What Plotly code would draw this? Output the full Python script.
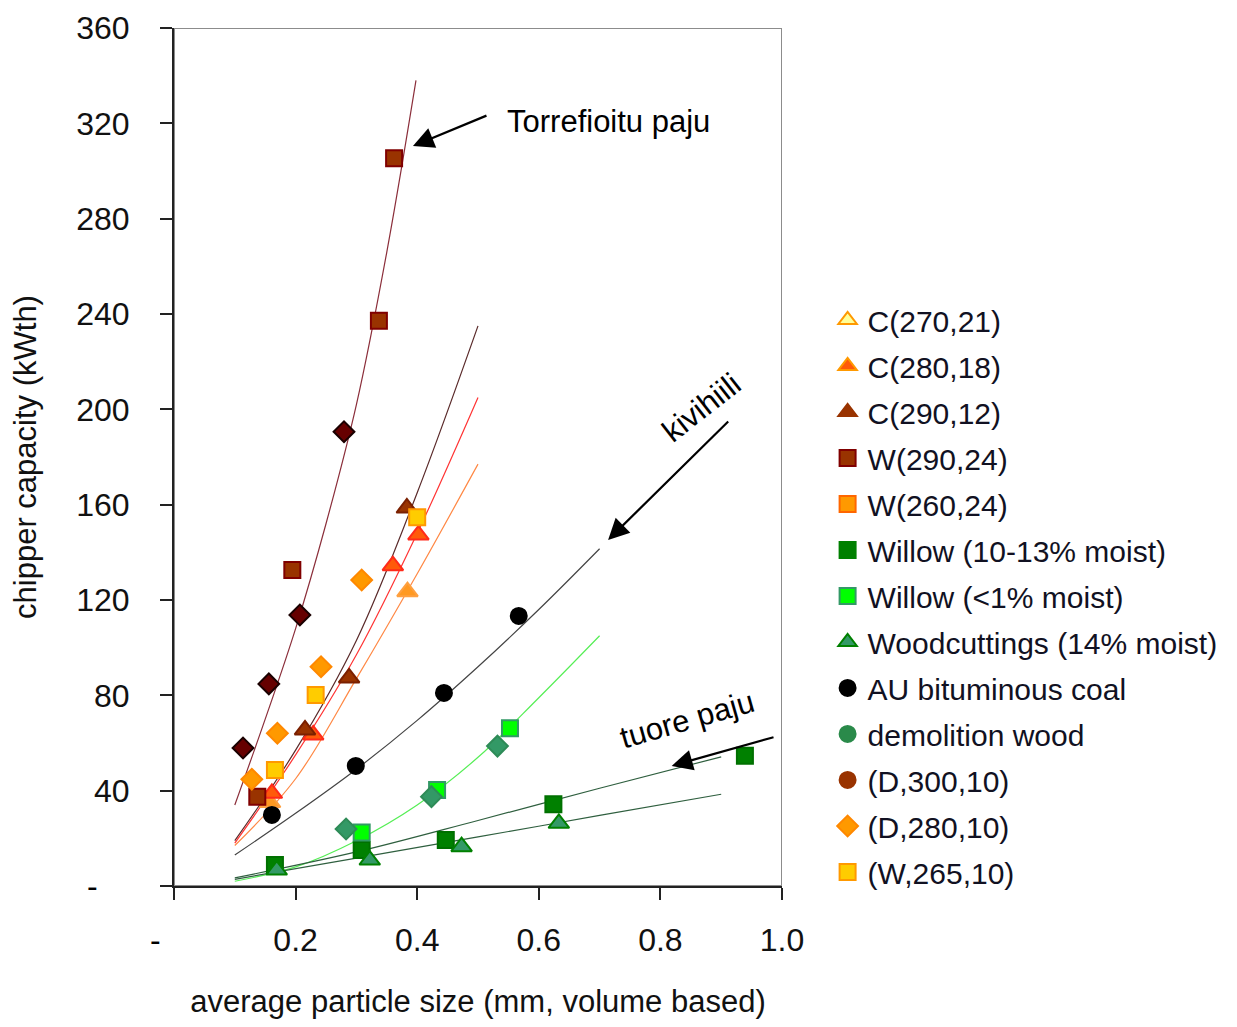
import plotly.graph_objects as go

# ---------------- data ----------------
c270_x = [0.158, 0.384]
c270_y = [35.0, 123.5]
c280_x = [0.161, 0.229, 0.360, 0.402]
c280_y = [38.9, 63.4, 134.4, 147.3]
c290_x = [0.2155, 0.288, 0.383]
c290_y = [65.5, 87.3, 158.6]
w290_x = [0.137, 0.1946, 0.337, 0.362]
w290_y = [37.5, 132.6, 237.2, 305.4]
w260_x = []
w260_y = []
willow_wet_x = [0.166, 0.3087, 0.447, 0.624, 0.939]
willow_wet_y = [8.8, 15.1, 19.3, 34.3, 54.6]
willow_dry_x = [0.3087, 0.4327, 0.5526]
willow_dry_y = [22.4, 40.3, 66.2]
woodcut_x = [0.169, 0.322, 0.473, 0.633]
woodcut_y = [6.7, 10.9, 16.5, 26.3]
coal_x = [0.161, 0.299, 0.444, 0.567]
coal_y = [29.8, 50.4, 81.0, 113.3]
demol_x = [0.283, 0.4235, 0.532]
demol_y = [23.9, 37.5, 58.7]
d300_x = [0.1135, 0.156, 0.207, 0.2796]
d300_y = [57.9, 84.8, 113.7, 190.6]
d280_x = [0.128, 0.170, 0.2418, 0.3087]
d280_y = [44.8, 64.1, 92.0, 128.4]
w265_x = [0.166, 0.233, 0.400]
w265_y = [48.7, 80.1, 154.7]

# trend lines
tr_torr_x = [0.10, 0.15, 0.20, 0.25, 0.30, 0.35, 0.398]
tr_torr_y = [34, 70, 108, 152, 202, 266, 338]
tr_c290_x = [0.10, 0.20, 0.30, 0.40, 0.50]
tr_c290_y = [19, 57, 103, 165, 235]
tr_c280_x = [0.10, 0.20, 0.30, 0.40, 0.50]
tr_c280_y = [18, 55, 97, 148, 205]
tr_c270_x = [0.10, 0.20, 0.30, 0.40, 0.50]
tr_c270_y = [17, 45, 87, 131, 177]
tr_coal_x = [0.1, 0.2, 0.3, 0.4, 0.5, 0.6, 0.7]
tr_coal_y = [13, 30.5, 49, 69.5, 92, 116, 141.5]
tr_dry_x = [0.1, 0.2, 0.3, 0.4, 0.5, 0.6, 0.7]
tr_dry_y = [2, 8, 19, 34, 54, 79, 105]
tr_wet_x = [0.1, 0.3, 0.5, 0.7, 0.9]
tr_wet_y = [3.4, 14.3, 27.5, 41, 54.2]
tr_cut_x = [0.1, 0.3, 0.5, 0.7, 0.9]
tr_cut_y = [2.8, 11.7, 20.6, 29.6, 38.5]

x_ticks = [0, 0.2, 0.4, 0.6, 0.8, 1.0]
x_ticktext = ["", "0.2", "0.4", "0.6", "0.8", "1.0"]
y_ticks = [0, 40, 80, 120, 160, 200, 240, 280, 320, 360]
y_ticktext = ["", "40", "80", "120", "160", "200", "240", "280", "320", "360"]

SANS = "Liberation Sans, Arial"

fig = go.Figure()

# trend lines
lines = [
    (tr_torr_x, tr_torr_y, "#8B2E3A"),
    (tr_c290_x, tr_c290_y, "#5A2A2A"),
    (tr_c280_x, tr_c280_y, "#FF3333"),
    (tr_c270_x, tr_c270_y, "#FF8844"),
    (tr_coal_x, tr_coal_y, "#444444"),
    (tr_dry_x, tr_dry_y, "#55EE55"),
    (tr_wet_x, tr_wet_y, "#2F5F3F"),
    (tr_cut_x, tr_cut_y, "#2F5F3F"),
]
for lx, ly, col in lines:
    fig.add_trace(go.Scatter(x=lx, y=ly, mode="lines", line=dict(color=col, width=1.2, shape="spline"),
                             showlegend=False, hoverinfo="skip"))

# markers in plot
pts = [
    (c270_x, c270_y, "triangle-up", 18, "#FF9922", "#FFA040"),
    (c280_x, c280_y, "triangle-up", 18, "#FF5A0A", "#FF2A1A"),
    (c290_x, c290_y, "triangle-up", 18, "#993300", "#7A2000"),
    (w290_x, w290_y, "square", 16, "#993300", "#800000"),
    (w260_x, w260_y, "square", 16, "#FF9900", "#FF6600"),
    (willow_wet_x, willow_wet_y, "square", 16, "#008000", "#007000"),
    (willow_dry_x, willow_dry_y, "square", 16, "#00FF00", "#339966"),
    (woodcut_x, woodcut_y, "triangle-up", 18, "#339966", "#008000"),
    (coal_x, coal_y, "circle", 16, "#000000", "#000000"),
    (demol_x, demol_y, "diamond", 16, "#339966", "#2E8B57"),
    (d300_x, d300_y, "diamond", 16, "#660000", "#1A0000"),
    (d280_x, d280_y, "diamond", 16, "#FF9900", "#FF8800"),
    (w265_x, w265_y, "square", 16, "#FFCC00", "#FF9900"),
]
for px, py, sym, sz, fc, ec in pts:
    fig.add_trace(go.Scatter(x=px, y=py, mode="markers",
                             marker=dict(symbol=sym, size=sz, color=fc, line=dict(color=ec, width=2)),
                             showlegend=False, cliponaxis=False))

# legend entries
legend_items = [
    ("C(270,21)", "triangle-up", "#FFFF99", "#FF9900"),
    ("C(280,18)", "triangle-up", "#FF5A0A", "#FF9900"),
    ("C(290,12)", "triangle-up", "#993300", "#993300"),
    ("W(290,24)", "square", "#993300", "#800000"),
    ("W(260,24)", "square", "#FF9900", "#FF6600"),
    ("Willow (10-13% moist)", "square", "#008000", "#008000"),
    ("Willow (<1% moist)", "square", "#00FF00", "#339966"),
    ("Woodcuttings (14% moist)", "triangle-up", "#339966", "#008000"),
    ("AU bituminous coal", "circle", "#000000", "#000000"),
    ("demolition wood", "circle", "#2A8A4A", "#2A8A4A"),
    ("(D,300,10)", "circle", "#993300", "#993300"),
    ("(D,280,10)", "diamond", "#FF9900", "#FF8800"),
    ("(W,265,10)", "square", "#FFCC00", "#FF9900"),
]
for i, (name, sym, fc, ec) in enumerate(legend_items):
    fig.add_trace(go.Scatter(x=[None], y=[None], mode="markers", name=name, legendgroup="g%d" % i,
                             marker=dict(symbol=sym, size=16, color=fc, line=dict(color=ec, width=2))))

# frame (gray top/right)
fig.add_shape(type="rect", xref="x", yref="y", x0=0, x1=1, y0=0, y1=360,
              line=dict(color="#8C8C8C", width=2), layer="below")

ann = [
    dict(x=0.393, y=310.5, ax=0.5164, ay=323.5, xref="x", yref="y", axref="x", ayref="y",
         text="", showarrow=True, arrowhead=2, arrowsize=1.9, arrowwidth=2.2, arrowcolor="black"),
    dict(x=0.544, y=320.6, xref="x", yref="y", text="Torrefioitu paju", showarrow=False,
         xanchor="left", yanchor="middle", font=dict(family=SANS, size=31, color="black")),
    dict(x=0.714, y=145.2, ax=0.914, ay=195.5, xref="x", yref="y", axref="x", ayref="y",
         text="", showarrow=True, arrowhead=2, arrowsize=1.9, arrowwidth=2.2, arrowcolor="black"),
    dict(x=0.868, y=200.6, xref="x", yref="y", text="kivihiili", showarrow=False, textangle=-38,
         font=dict(family=SANS, size=31, color="black")),
    dict(x=0.8186, y=50.4, ax=0.9885, ay=62.6, xref="x", yref="y", axref="x", ayref="y",
         text="", showarrow=True, arrowhead=2, arrowsize=1.9, arrowwidth=2.2, arrowcolor="black"),
    dict(x=0.844, y=70.0, xref="x", yref="y", text="tuore paju", showarrow=False, textangle=-16,
         font=dict(family=SANS, size=31, color="black")),
    dict(x=-0.147, y=0, xref="paper", yref="y", text="-", showarrow=False,
         font=dict(family=SANS, size=32, color="black")),
    dict(x=-0.043, y=-0.086, xref="paper", yref="paper", text="-", showarrow=False,
         font=dict(family=SANS, size=32, color="black")),
]
fig.update_layout(annotations=ann)

fig.update_xaxes(range=[0, 1], tickvals=x_ticks, ticktext=x_ticktext, showgrid=False, zeroline=False,
                 showline=True, linecolor="#222222", linewidth=2, ticks="outside", ticklen=12,
                 tickwidth=1.5, tickcolor="#222222", ticklabelstandoff=13,
                 tickfont=dict(family=SANS, size=32, color="#111111"),
                 title=dict(text="average particle size (mm, volume based)", standoff=40,
                            font=dict(family=SANS, size=31, color="#111111")))
fig.update_yaxes(range=[0, 360], tickvals=y_ticks, ticktext=y_ticktext, showgrid=False, zeroline=False,
                 showline=True, linecolor="#222222", linewidth=2, ticks="outside", ticklen=12,
                 tickwidth=1.5, tickcolor="#222222", ticklabelstandoff=24,
                 tickfont=dict(family=SANS, size=32, color="#111111"),
                 title=dict(text="chipper capacity (kWth)", standoff=30,
                            font=dict(family=SANS, size=31, color="#111111")))

fig.update_layout(
    width=1221, height=1011,
    margin=dict(l=166, r=447, t=20, b=133, autoexpand=False),
    plot_bgcolor="white", paper_bgcolor="white",
    legend=dict(x=1.075, xanchor="left", y=0.69, yanchor="top", traceorder="grouped",
                tracegroupgap=4, font=dict(family=SANS, size=30, color="#111122"),
                bgcolor="rgba(0,0,0,0)", itemwidth=30),
)

fig.write_html("out.html")
